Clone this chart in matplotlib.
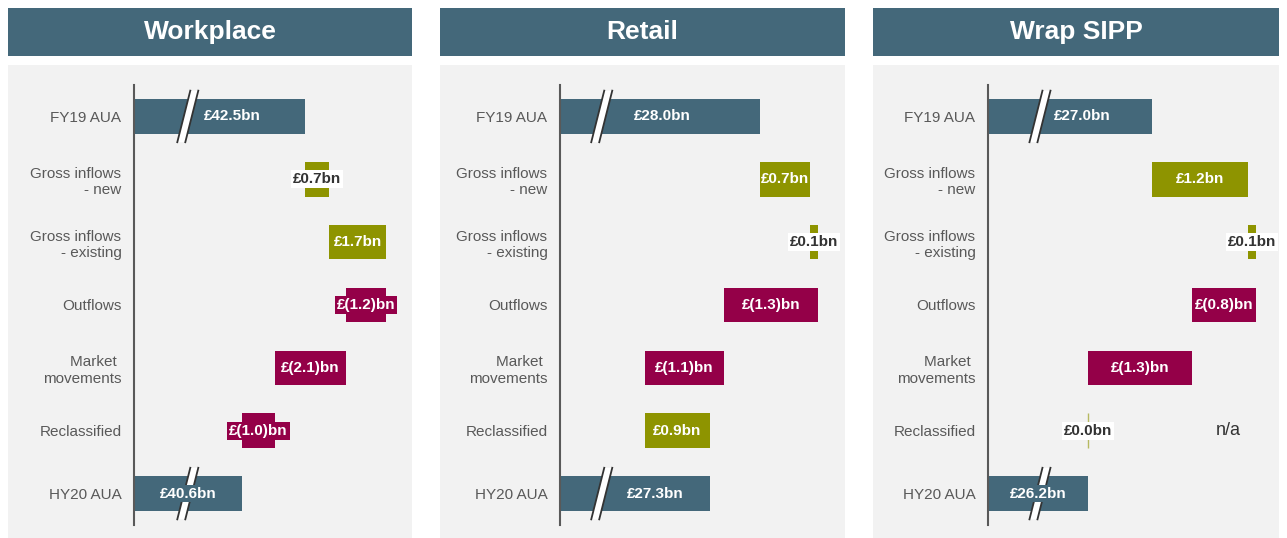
"""
AUA waterfall by channel -- FY19 to HY20, three panels with broken axes.
"""
import matplotlib
matplotlib.use("Agg")
import matplotlib.pyplot as plt
from matplotlib.patches import Polygon

plt.rcParams['font.family'] = ['Liberation Sans', 'DejaVu Sans']

# ---------- data ----------
panels = ["Workplace", "Retail", "Wrap SIPP"]
categories = ["FY19 AUA", "Gross inflows\n- new", "Gross inflows\n- existing",
              "Outflows", "Market \nmovements", "Reclassified", "HY20 AUA"]
opening = [42.5, 28.0, 27.0]
closing = [40.6, 27.3, 26.2]
moves_workplace = [0.7, 1.7, -1.2, -2.1, -1.0]
moves_retail = [0.7, 0.1, -1.3, -1.1, 0.9]
moves_sipp = [1.2, 0.1, -0.8, -1.3, 0.0]
moves = [moves_workplace, moves_retail, moves_sipp]
# visible x-range of each panel (axis is broken, so it starts well above zero)
x_limits = [(37.4, 45.46), (25.22, 29.11), (24.95, 28.54)]
break_at = [39.0, 25.8, 25.6]
na_rows = [None, None, "Reclassified"]

NAVY = "#44687a"
OLIVE = "#8e9400"
MAGENTA = "#940048"
PANEL_BG = "#f2f2f2"
TEXT = "#595959"
DARK = "#333333"

W, H = 1287, 538
fig = plt.figure(figsize=(W/100, H/100), dpi=100)


def px_rect(x0, y0, x1, y1):
    return [x0/W, 1 - y1/H, (x1 - x0)/W, (y1 - y0)/H]


def fmt(v):
    return f"£({abs(v):.1f})bn" if v < 0 else f"£{v:.1f}bn"


panel_x = [(8, 412), (440, 845), (873, 1279)]
axis_x = [(134, 405), (560, 840), (988, 1275)]
bar_h = 0.55
lab_kw = dict(fontsize=11, fontweight="bold", ha="center", va="center", zorder=4)

for i, name in enumerate(panels):
    x0, x1 = panel_x[i]
    # header
    hax = fig.add_axes(px_rect(x0, 8, x1, 56))
    hax.set_facecolor(NAVY)
    hax.set_xticks([]); hax.set_yticks([])
    for s in hax.spines.values():
        s.set_visible(False)
    hax.text(0.5, 0.5, name, color="white", fontsize=19, fontweight="bold",
             ha="center", va="center", transform=hax.transAxes)
    # grey panel
    bax = fig.add_axes(px_rect(x0, 65, x1, 538))
    bax.set_facecolor(PANEL_BG)
    bax.set_xticks([]); bax.set_yticks([])
    for s in bax.spines.values():
        s.set_visible(False)

    ax = fig.add_axes(px_rect(axis_x[i][0], 85, axis_x[i][1], 525))
    ax.patch.set_alpha(0)
    lo, hi = x_limits[i]
    ax.set_xlim(lo, hi)
    ax.set_ylim(len(categories) - 0.5, -0.5)
    px_per = (axis_x[i][1] - axis_x[i][0]) / (hi - lo)

    # waterfall geometry
    lefts, widths, colors = [0], [opening[i]], [NAVY]
    level = opening[i]
    for m in moves[i]:
        lefts.append(min(level, level + m))
        widths.append(abs(m))
        colors.append(OLIVE if m >= 0 else MAGENTA)
        level += m
    lefts.append(0); widths.append(closing[i]); colors.append(NAVY)
    values = [opening[i]] + moves[i] + [closing[i]]
    ys = list(range(len(categories)))

    ax.barh(ys, widths, left=lefts, height=bar_h, color=colors, zorder=2)

    for y, l, w, v, c in zip(ys, lefts, widths, values, colors):
        if y in (0, len(ys) - 1):
            # broken-axis slash
            bx = break_at[i]
            hw, sk, hh = 4/px_per, 6.5/px_per, 0.41
            pts = [(bx - hw - sk, y + hh), (bx + hw - sk, y + hh),
                   (bx + hw + sk, y - hh), (bx - hw + sk, y - hh)]
            ax.add_patch(Polygon(pts, closed=True, facecolor="white",
                                 edgecolor="none", zorder=3))
            ax.plot([pts[0][0], pts[3][0]], [pts[0][1], pts[3][1]], color=DARK, lw=1.3, zorder=3)
            ax.plot([pts[1][0], pts[2][0]], [pts[1][1], pts[2][1]], color=DARK, lw=1.3, zorder=3)
            end = l + w
            if y == 0:
                ax.text(bx + 0.38 * (end - bx), y, fmt(v), color="white", **lab_kw)
            else:
                mid = (lo + end) / 2
                if abs(mid - bx) * px_per < 12:
                    ax.text(mid, y, fmt(v), color="white", **lab_kw,
                            bbox=dict(boxstyle="square,pad=0.1", fc=c, ec="none"))
                else:
                    ax.text((bx + end) / 2, y, fmt(v), color="white", **lab_kw)
            continue
        cx = l + w / 2
        if w == 0:
            ax.vlines(cx, y - bar_h/2, y + bar_h/2, color=OLIVE, lw=1, alpha=0.6, zorder=2)
        if w * px_per >= 45:
            ax.text(cx, y, fmt(v), color="white", **lab_kw)
        elif v < 0:
            ax.text(cx, y, fmt(v), color="white", **lab_kw,
                    bbox=dict(boxstyle="square,pad=0.12", fc=c, ec="none"))
        else:
            ax.text(cx, y, fmt(v), color=DARK, **lab_kw,
                    bbox=dict(boxstyle="square,pad=0.12", fc="white", ec="none"))

    if na_rows[i] is not None:
        ax.text(0.836, categories.index(na_rows[i]), "n/a", color=DARK, fontsize=13,
                ha="center", va="center", transform=ax.get_yaxis_transform())

    ax.set_yticks(ys)
    ax.set_yticklabels(categories, fontsize=11, color=TEXT, multialignment="right")
    ax.tick_params(axis="y", length=0, pad=9)
    ax.set_xticks([])
    for s in ["top", "right", "bottom"]:
        ax.spines[s].set_visible(False)
    ax.spines["left"].set_color("#595959")
    ax.spines["left"].set_linewidth(1.5)

plt.savefig("out.png", dpi=100)
plt.close()
